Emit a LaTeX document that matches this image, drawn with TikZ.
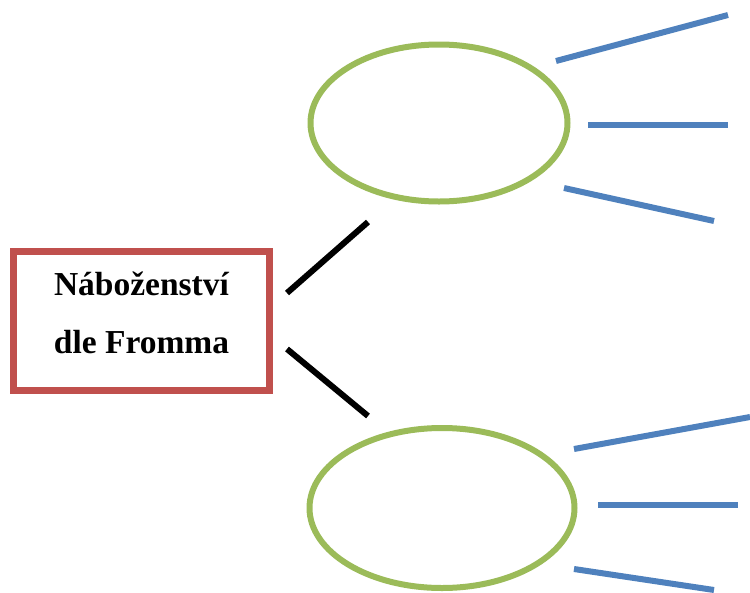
\documentclass[tikz,border=0pt]{standalone}
\usepackage{fontspec}
\setmainfont{Liberation Serif}
\usetikzlibrary{shapes.geometric, positioning}
\definecolor{boxred}{RGB}{192, 80, 77}
\definecolor{ovalgreen}{RGB}{155, 187, 89}
\definecolor{rayblue}{RGB}{79, 129, 189}

\begin{document}
\begin{tikzpicture}[x=1pt, y=-1pt,
  topicbox/.style={draw=boxred, line width=7pt, minimum width=256pt, minimum height=139pt, inner sep=0pt, text depth=16pt, align=center, font=\fontsize{33.5}{58}\selectfont\bfseries},
  oval/.style={draw=ovalgreen, line width=6pt, ellipse, inner sep=0pt},
  branch/.style={line width=6pt, black},
  ray/.style={line width=6pt, rayblue}]
\useasboundingbox (0,0) rectangle (750,592);

% Main topic box
\node[topicbox] (topic) at (141.5,321) {Náboženství\\dle Fromma};

% Two ovals
\node[oval, minimum width=257pt, minimum height=157pt] (upper) at (439,123) {};
\node[oval, minimum width=265pt, minimum height=160pt] (lower) at (442,508) {};

% Branches from the box
\coordinate (b1s) at (287,293);
\coordinate (b1e) at (368,222);
\coordinate (b2s) at (287,349);
\coordinate (b2e) at (368,416);
\draw[branch] (b1s) -- (b1e);
\draw[branch] (b2s) -- (b2e);

% Rays of the upper oval
\coordinate (u1s) at (556,61);  \coordinate (u1e) at (728,15);
\coordinate (u2s) at (588,125); \coordinate (u2e) at (728,125);
\coordinate (u3s) at (564,188); \coordinate (u3e) at (714,221);
\draw[ray] (u1s) -- (u1e);
\draw[ray] (u2s) -- (u2e);
\draw[ray] (u3s) -- (u3e);

% Rays of the lower oval
\coordinate (l1s) at (574,449); \coordinate (l1e) at (750,417);
\coordinate (l2s) at (598,505); \coordinate (l2e) at (738,505);
\coordinate (l3s) at (574,569); \coordinate (l3e) at (714,590);
\draw[ray] (l1s) -- (l1e);
\draw[ray] (l2s) -- (l2e);
\draw[ray] (l3s) -- (l3e);
\end{tikzpicture}
\end{document}
